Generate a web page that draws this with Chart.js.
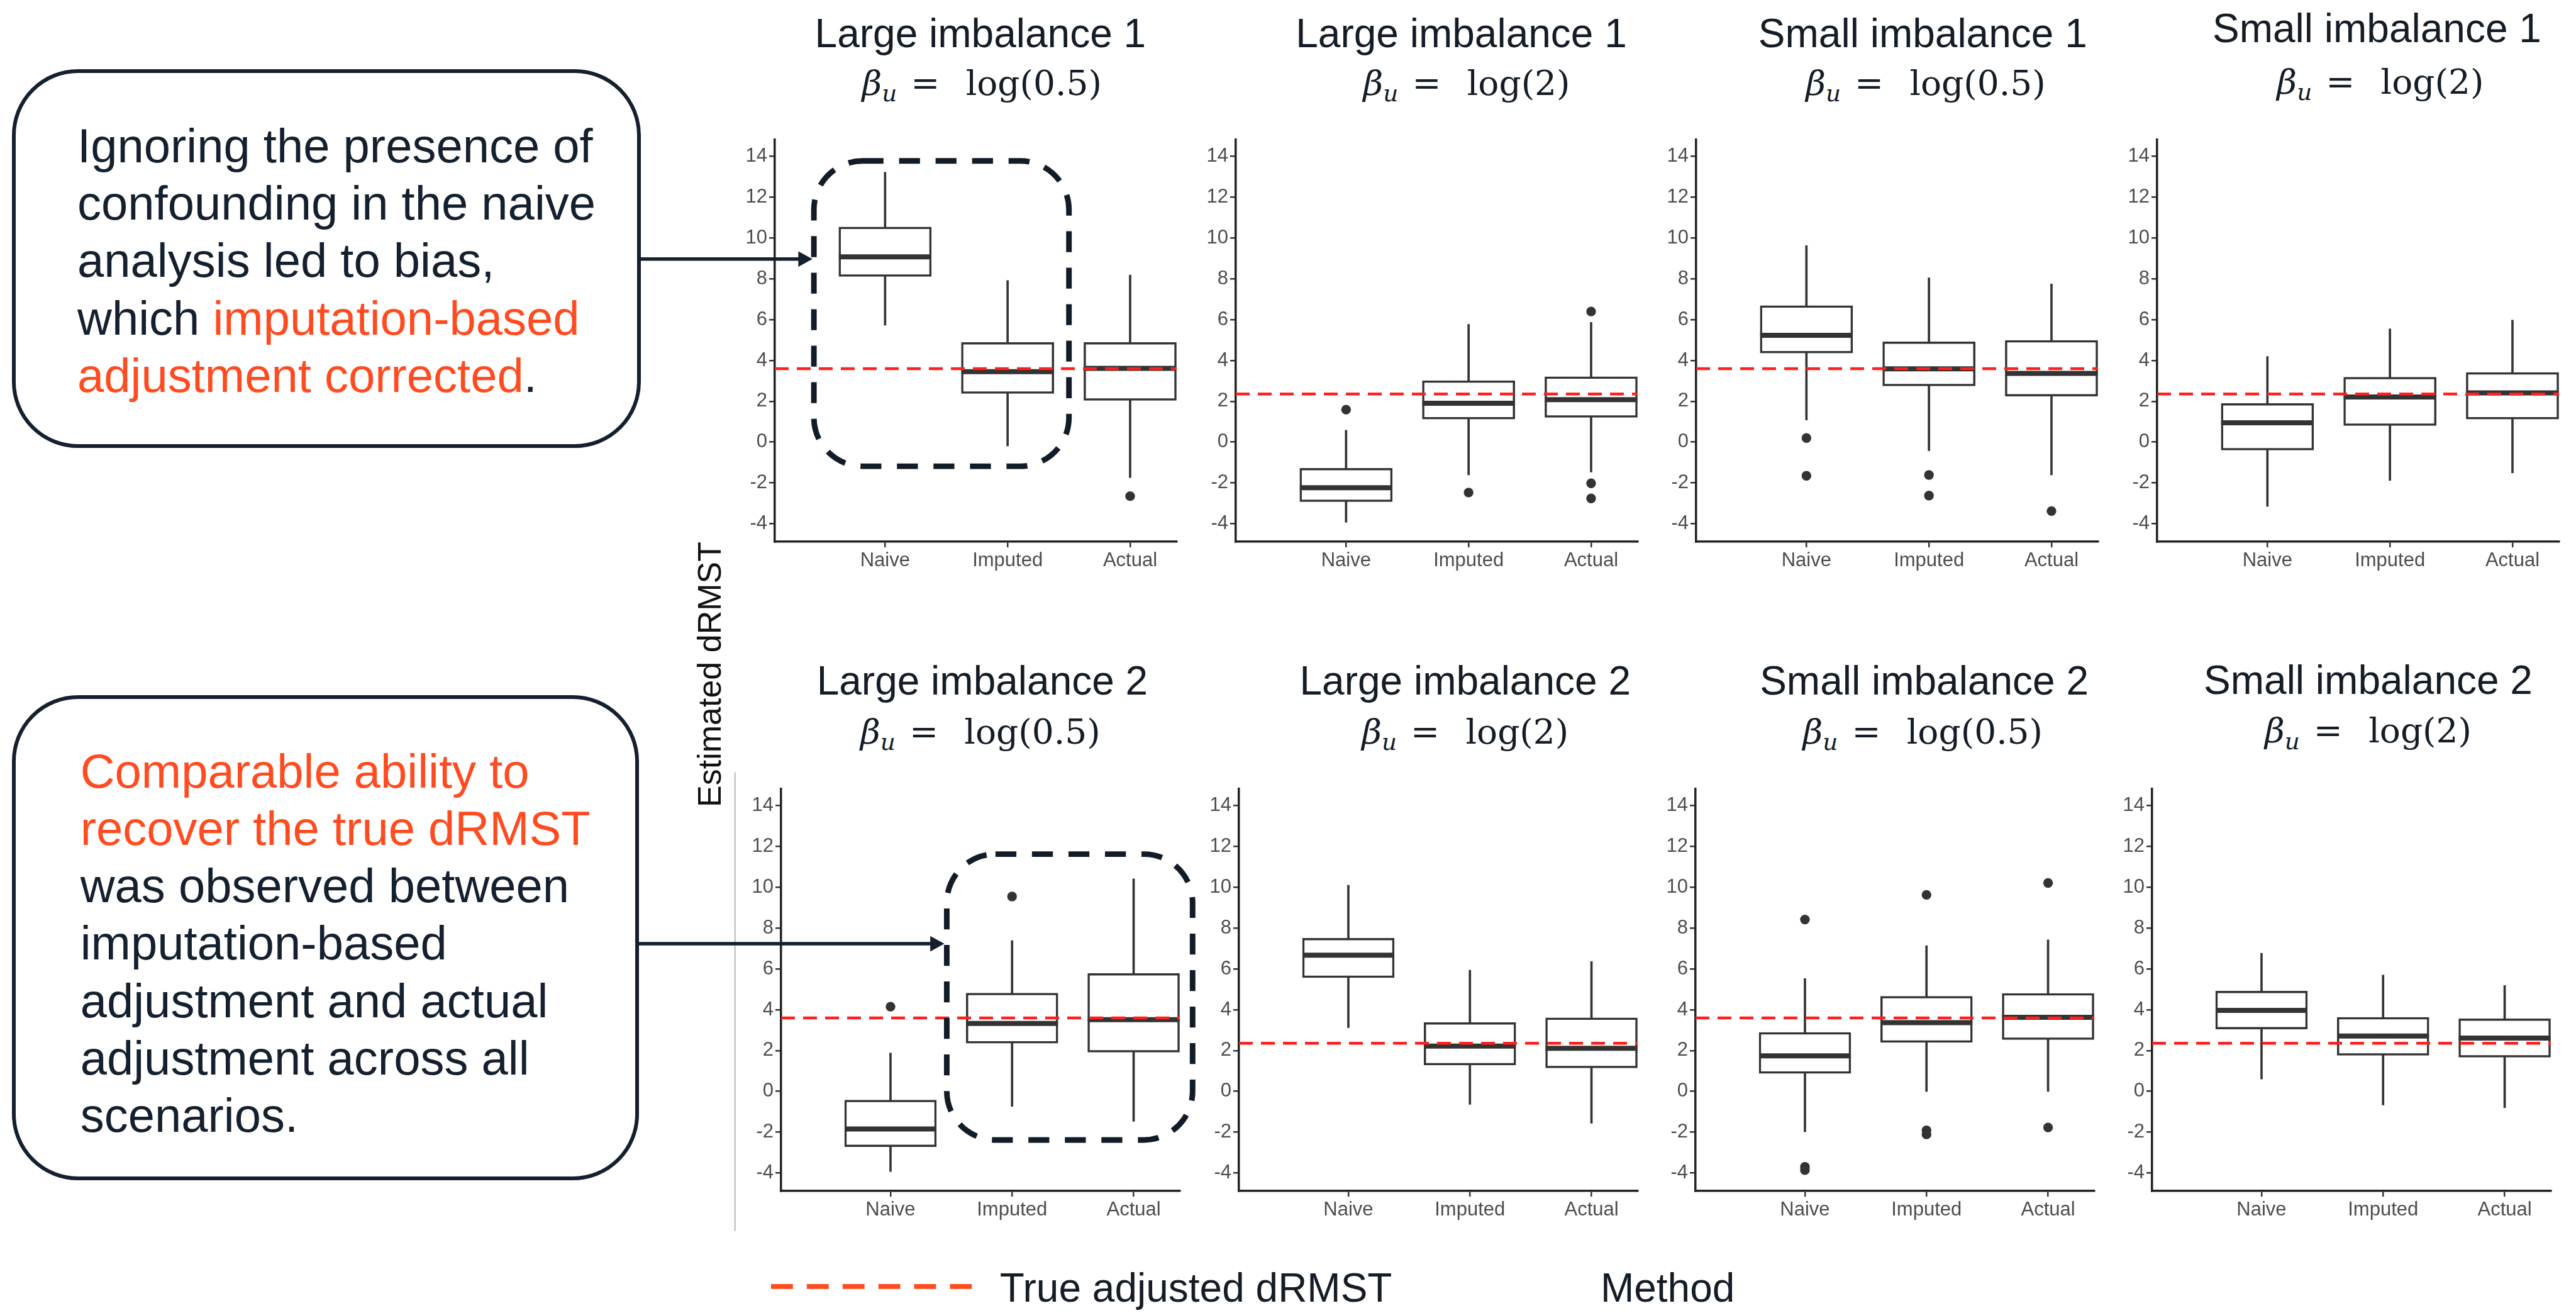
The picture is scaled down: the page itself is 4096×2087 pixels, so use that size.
<!DOCTYPE html>
<html>
<head>
<meta charset="utf-8">
<script src="https://cdn.jsdelivr.net/npm/chart.js@4.4.1/dist/chart.umd.min.js"></script>
<style>
  html, body { margin: 0; padding: 0; background: #fff; }
  #page { position: relative; width: 4096px; height: 2087px; overflow: hidden; background: #fff;
          font-family: 'Liberation Sans', Arial, sans-serif; color: #141c26; }
  #page canvas { position: absolute; }
  .title { position: absolute; font-size: 64px; line-height: 64px; white-space: nowrap; transform: translateX(-50%); }
  .beta { position: absolute; font-family: 'DejaVu Serif', serif; font-size: 55px; line-height: 1.2; white-space: nowrap; transform: translateX(-50%); }
  .beta .b { font-style: italic; }
  .beta .u { font-style: italic; font-size: 0.68em; position: relative; top: 0.28em; }
  .beta .eq { margin: 0 0.75em 0 0.4em; }
  .note { position: absolute; border: 6px solid #14202e; border-radius: 105px; box-sizing: border-box; }
  .ntext { position: absolute; margin: 0; font-size: 76px; line-height: 91.3px; white-space: nowrap; color: #14202e; }
  .hl { color: #ff4b1f; }
  .ylab { position: absolute; font-size: 52px; line-height: 52px; white-space: nowrap; color: #111; transform: translate(-50%, -50%) rotate(-90deg); }
  .leg { position: absolute; font-size: 64px; line-height: 64px; white-space: nowrap; color: #141c26; }
  svg { position: absolute; left: 0; top: 0; }
</style>
</head>
<body>
<div id="page"></div>
<script>
// ---- data ----
const methods = ['Naive', 'Imputed', 'Actual'];
const yTicks = [-4, -2, 0, 2, 4, 6, 8, 10, 12, 14];
const scenarios = ['Large imbalance 1', 'Large imbalance 1', 'Small imbalance 1', 'Small imbalance 1',
                   'Large imbalance 2', 'Large imbalance 2', 'Small imbalance 2', 'Small imbalance 2'];
const betaU = ['log(0.5)', 'log(2)', 'log(0.5)', 'log(2)', 'log(0.5)', 'log(2)', 'log(0.5)', 'log(2)'];
const trueDrmst = [3.6, 2.36, 3.6, 2.36, 3.6, 2.36, 3.6, 2.36];

// one row per panel, columns = Naive, Imputed, Actual
const lowerWhisker = [
  [5.73, -0.19, -1.74], [-3.93, -1.61, -1.47], [1.08, -0.42, -1.61], [-3.15, -1.88, -1.51],
  [-3.93, -0.74, -1.47], [3.12, -0.64, -1.56], [-1.98, -0.01, -0.01], [0.60, -0.67, -0.80]
];
const q1 = [
  [8.12, 2.38, 2.04], [-2.92, 1.13, 1.21], [4.36, 2.75, 2.25], [-0.39, 0.81, 1.13],
  [-2.71, 2.36, 1.92], [5.57, 1.29, 1.15], [0.88, 2.40, 2.54], [3.05, 1.77, 1.67]
];
const median = [
  [9.08, 3.45, 3.61], [-2.24, 1.90, 2.08], [5.23, 3.59, 3.37], [0.95, 2.21, 2.41],
  [-1.84, 3.33, 3.51], [6.67, 2.22, 2.11], [1.74, 3.37, 3.63], [3.97, 2.71, 2.61]
];
const q3 = [
  [10.54, 4.88, 4.88], [-1.28, 3.01, 3.20], [6.69, 4.91, 4.98], [1.89, 3.18, 3.41],
  [-0.43, 4.81, 5.78], [7.50, 3.37, 3.60], [2.89, 4.66, 4.80], [4.91, 3.63, 3.56]
];
const upperWhisker = [
  [13.22, 7.92, 8.19], [0.58, 5.77, 5.87], [9.63, 8.05, 7.75], [4.20, 5.55, 5.98],
  [1.88, 7.39, 10.42], [10.10, 5.94, 6.36], [5.53, 7.14, 7.43], [6.77, 5.70, 5.19]
];
const outliers = [
  [[], [], [-2.65]],
  [[1.59], [-2.47], [6.40, -2.02, -2.76]],
  [[0.20, -1.65], [-1.61, -2.62], [-3.38]],
  [[], [], []],
  [[4.15], [9.55], []],
  [[], [], []],
  [[8.42, -3.70, -3.86], [9.63, -1.91, -2.11], [10.21, -1.77]],
  [[], [], []]
];

// ---- layout (measured on the full-size figure, scaled by S) ----
const S = 0.774;
const px = v => v * S;
const Y_AXIS_W = 60, X_AXIS_H = 60, PAD = 10;
const X_MIN = 0.1, X_MAX = 3.38, Y_MIN = -4.88, Y_MAX = 14.82;
const BOX_UNITS = 0.755;
const plotLeft = [1592, 2539, 3484, 4432, 1605, 2545, 3483, 4421];
const plotW = [826, 826, 826, 826, 819, 819, 819, 819];
const plotTop = [287, 287, 287, 287, 1620, 1620, 1620, 1620];
const PLOT_H = 825;
const titleX = [2014, 3002, 3950, 4883, 2018, 3010, 3953, 4865];
const titleBase = [97, 97, 97, 87, 1427, 1427, 1427, 1425];
const betaX = [2017, 3013, 3956, 4890, 2014, 3010, 3950, 4865];
const betaBase = [195, 195, 195, 192, 1527, 1527, 1527, 1525];

const INK = '#333333';
const TICK_FONT = { family: "'Liberation Sans', Arial, sans-serif", size: 31 };
Chart.defaults.font.family = "'Liberation Sans', Arial, sans-serif";

const page = document.getElementById('page');

for (let p = 0; p < 8; p++) {
  const areaL = px(plotLeft[p]), areaT = px(plotTop[p]);
  const areaW = px(plotW[p]), areaH = px(PLOT_H);
  const w = Math.round(Y_AXIS_W + areaW + PAD);
  const h = Math.round(PAD + areaH + X_AXIS_H);
  const cv = document.createElement('canvas');
  cv.width = w; cv.height = h;
  cv.style.width = w + 'px'; cv.style.height = h + 'px';
  cv.style.left = Math.round(areaL - Y_AXIS_W) + 'px';
  cv.style.top = Math.round(areaT - PAD) + 'px';
  page.appendChild(cv);

  const unit = (w - Y_AXIS_W - PAD) / (X_MAX - X_MIN);
  const boxW = BOX_UNITS * unit;

  new Chart(cv, {
    type: 'bar',
    data: {
      datasets: [
        { // whiskers
          type: 'bar', order: 5, grouped: false, clip: false,
          data: methods.map((m, i) => ({ x: i + 1, y: [lowerWhisker[p][i], upperWhisker[p][i]] })),
          barThickness: 3, backgroundColor: INK, borderWidth: 0
        },
        { // boxes
          type: 'bar', order: 4, grouped: false, clip: false,
          data: methods.map((m, i) => ({ x: i + 1, y: [q1[p][i], q3[p][i]] })),
          barThickness: boxW, backgroundColor: '#ffffff', borderColor: INK,
          borderWidth: 3.5, borderSkipped: false
        },
        { // medians
          type: 'scatter', order: 3, clip: false,
          data: methods.map((m, i) => ({ x: i + 1, y: median[p][i] })),
          pointStyle: 'line', pointRadius: boxW / 2, pointHoverRadius: boxW / 2,
          pointBorderWidth: 8, pointBorderColor: INK
        },
        { // true adjusted dRMST
          type: 'line', order: 2,
          data: [{ x: X_MIN, y: trueDrmst[p] }, { x: X_MAX, y: trueDrmst[p] }],
          borderColor: '#ff1f1f', borderWidth: 4.5, borderDash: [22, 13], pointRadius: 0, fill: false
        },
        { // outliers
          type: 'scatter', order: 1, clip: false,
          data: outliers[p].flatMap((vals, i) => vals.map(v => ({ x: i + 1, y: v }))),
          pointRadius: 7.7, pointHoverRadius: 7.7, pointBackgroundColor: INK, pointBorderWidth: 0
        }
      ]
    },
    options: {
      responsive: false,
      animation: false,
      devicePixelRatio: 1,
      layout: { autoPadding: false, padding: { top: PAD, right: PAD, left: 0, bottom: 0 } },
      plugins: { legend: { display: false }, tooltip: { enabled: false } },
      scales: {
        x: {
          type: 'linear', min: X_MIN, max: X_MAX, offset: false,
          grid: { display: true, offset: false, drawOnChartArea: false, drawTicks: true, tickLength: 9, color: INK, lineWidth: 2.5 },
          border: { display: true, color: '#222222', width: 3.5 },
          ticks: { font: TICK_FONT, color: '#4d4d4d', padding: 3, autoSkip: false, maxRotation: 0,
                   callback: v => methods[v - 1] },
          afterBuildTicks: s => { s.ticks = methods.map((m, i) => ({ value: i + 1 })); },
          afterFit: s => { s.height = X_AXIS_H; s.paddingLeft = 0; s.paddingRight = 0; }
        },
        y: {
          type: 'linear', min: Y_MIN, max: Y_MAX,
          grid: { display: true, drawOnChartArea: false, drawTicks: true, tickLength: 9, color: INK, lineWidth: 2.5 },
          border: { display: true, color: '#222222', width: 3.5 },
          ticks: { font: TICK_FONT, color: '#4d4d4d', padding: 3, callback: v => String(v) },
          afterBuildTicks: s => { s.ticks = yTicks.map(v => ({ value: v })); },
          afterFit: s => { s.width = Y_AXIS_W; s.paddingTop = 0; s.paddingBottom = 0; }
        }
      }
    }
  });

  // panel titles
  const t = document.createElement('div');
  t.className = 'title';
  t.textContent = scenarios[p];
  t.style.left = px(titleX[p]) + 'px';
  t.style.top = (px(titleBase[p]) - 0.8465 * 64) + 'px';
  page.appendChild(t);

  const b = document.createElement('div');
  b.className = 'beta';
  b.innerHTML = '<span class="b">\u03b2</span><span class="u">u</span><span class="eq">=</span>' + betaU[p];
  b.style.left = px(betaX[p]) + 'px';
  b.style.top = (px(betaBase[p]) - 0.946 * 55) + 'px';
  page.appendChild(b);
}

// y axis title
const yl = document.createElement('div');
yl.className = 'ylab';
yl.textContent = 'Estimated dRMST';
yl.style.left = px(1457) + 'px';
yl.style.top = px(1385) + 'px';
page.appendChild(yl);

// callout boxes
const notes = [
  { x: 29, y: 146, w: 1284, h: 770, textX: 159, base: 333,
    lines: ['Ignoring the presence of', 'confounding in the naive', 'analysis led to bias,',
            'which <span class="hl">imputation-based</span>', '<span class="hl">adjustment corrected</span>.'] },
  { x: 29, y: 1432, w: 1280, h: 988, textX: 165, base: 1617,
    lines: ['<span class="hl">Comparable ability to</span>', '<span class="hl">recover the true dRMST</span>',
            'was observed between', 'imputation-based', 'adjustment and actual',
            'adjustment across all', 'scenarios.'] }
];
notes.forEach(n => {
  const box = document.createElement('div');
  box.className = 'note';
  box.style.left = (px(n.x) - 3) + 'px';
  box.style.top = (px(n.y) - 3) + 'px';
  box.style.width = (px(n.w) + 6) + 'px';
  box.style.height = (px(n.h) + 6) + 'px';
  page.appendChild(box);
  const tx = document.createElement('div');
  tx.className = 'ntext';
  tx.innerHTML = n.lines.join('<br>');
  tx.style.left = px(n.textX) + 'px';
  tx.style.top = (px(n.base) - (91.3 / 2 + 0.3465 * 76)) + 'px';
  page.appendChild(tx);
});

// legend text
[['True adjusted dRMST', 2054], ['Method', 3288]].forEach(([txt, x]) => {
  const d = document.createElement('div');
  d.className = 'leg';
  d.textContent = txt;
  d.style.left = px(x) + 'px';
  d.style.top = (px(2673) - 0.8465 * 64) + 'px';
  page.appendChild(d);
});

// annotation layer: arrows, dashed highlight boxes, legend key, separator
const NS = 'http://www.w3.org/2000/svg';
const svg = document.createElementNS(NS, 'svg');
svg.setAttribute('width', 4096);
svg.setAttribute('height', 2087);
page.appendChild(svg);
function el(name, attrs) {
  const e = document.createElementNS(NS, name);
  Object.entries(attrs).forEach(([k, v]) => e.setAttribute(k, v));
  svg.appendChild(e);
  return e;
}
el('line', { x1: px(1510), y1: px(1586), x2: px(1510), y2: px(2528), stroke: '#b8b8b8', 'stroke-width': 2 });

[[1672, 330.5, 524, 627], [1945, 1754, 505, 587]].forEach(([x, y, w, h]) => {
  el('rect', { x: px(x), y: px(y), width: px(w), height: px(h), rx: px(100), ry: px(100), fill: 'none',
               stroke: '#111c27', 'stroke-width': px(11.5), 'stroke-dasharray': px(43) + ' ' + px(32) });
});

[[1312, 1669, 532], [1308, 1940, 1938]].forEach(([x0, tip, y]) => {
  const head = px(29), half = px(16);
  el('line', { x1: px(x0), y1: px(y), x2: px(tip) - head + 2, y2: px(y), stroke: '#14202e', 'stroke-width': px(7) });
  el('polygon', { points: `${px(tip)},${px(y)} ${px(tip) - head},${px(y) - half} ${px(tip) - head},${px(y) + half}`, fill: '#14202e' });
});

el('line', { x1: px(1584), y1: px(2642), x2: px(1998), y2: px(2642), stroke: '#ff4b1f',
             'stroke-width': px(10), 'stroke-dasharray': px(45) + ' ' + px(28.5) });
</script>
</body>
</html>
